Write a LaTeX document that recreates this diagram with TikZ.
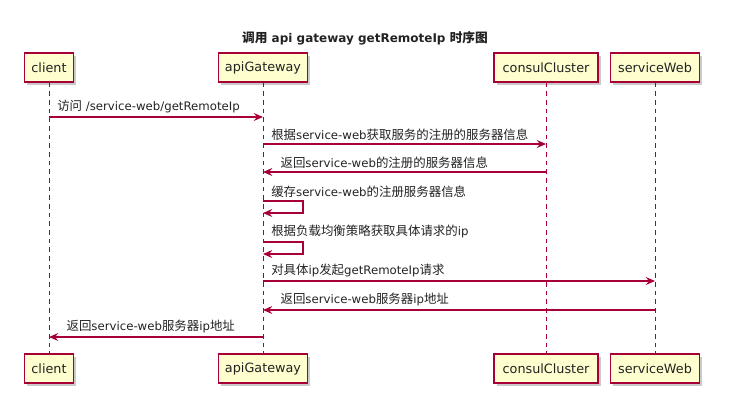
\documentclass[tikz,border=0pt]{standalone}
\usepackage{fontspec}
\setmainfont{DejaVu Sans}
\newfontfamily\cjk[Scale=1.06]{Noto Sans CJK SC}
\usetikzlibrary{arrows.meta,shadows}
\definecolor{umlred}{HTML}{A80036}
\definecolor{umlfill}{HTML}{FEFECE}
\definecolor{ink}{HTML}{222222}
\tikzset{
  actor/.style={draw=umlred, line width=0.9pt, fill=umlfill, minimum height=21.75pt, inner sep=0pt, text=ink, font=\fontsize{9.6}{11}\selectfont, drop shadow={shadow xshift=2pt, shadow yshift=-2pt, opacity=0.35, fill=black!60}},
  lifeline/.style={draw=umlred, line width=0.7pt, dash pattern=on 3.5pt off 3pt},
  msg/.style={draw=umlred, line width=0.8pt, -{Stealth[length=7pt,width=6pt,inset=2.5pt]}},
  lbl/.style={anchor=south west, inner sep=1pt, yshift=1.5pt, text=ink, font=\fontsize{8.8}{10}\selectfont}
}

\begin{document}
\begin{tikzpicture}[x=0.75pt, y=-0.75pt]
  \useasboundingbox (0,0) rectangle (739,419);
  \node[font=\bfseries\fontsize{9}{10}\selectfont, text=ink] (title) at (365,38) {{\cjk\bfseries 调用} api gateway getRemoteIp {\cjk\bfseries 时序图}};
  % participants, top and bottom
  \node[actor, minimum width=36.75pt] (client) at (49,67.5) {client};
  \node[actor, minimum width=66.75pt] (api) at (263,67.5) {apiGateway};
  \node[actor, minimum width=78pt] (consul) at (546,67.5) {consulCluster};
  \node[actor, minimum width=66.75pt] (web) at (655,67.5) {serviceWeb};
  \node[actor, minimum width=36.75pt] (clientB) at (49,368.5) {client};
  \node[actor, minimum width=66.75pt] (apiB) at (263,368.5) {apiGateway};
  \node[actor, minimum width=78pt] (consulB) at (546,368.5) {consulCluster};
  \node[actor, minimum width=66.75pt] (webB) at (655,368.5) {serviceWeb};
  \draw[lifeline] (client) -- (clientB);
  \draw[lifeline] (api) -- (apiB);
  \draw[lifeline] (consul) -- (consulB);
  \draw[lifeline] (web) -- (webB);
  % message rows
  \coordinate (r1) at (0,117);
  \coordinate (r2) at (0,144);
  \coordinate (r3) at (0,172);
  \coordinate (r4) at (0,201);
  \coordinate (r4b) at (0,213);
  \coordinate (r5) at (0,242);
  \coordinate (r5b) at (0,254);
  \coordinate (r6) at (0,281);
  \coordinate (r7) at (0,310);
  \coordinate (r8) at (0,337);
  \draw[msg] (client |- r1) -- (api |- r1);
  \node[lbl, xshift=5pt] (t1) at (client |- r1) {{\cjk 访问} /service-web/getRemoteIp};
  \draw[msg] (api |- r2) -- (consul |- r2);
  \node[lbl, xshift=5pt] (t2) at (api |- r2) {{\cjk 根据}service-web{\cjk 获取服务的注册的服务器信息}};
  \draw[msg] (consul |- r3) -- (api |- r3);
  \node[lbl, xshift=12pt] (t3) at (api |- r3) {{\cjk 返回}service-web{\cjk 的注册的服务器信息}};
  \draw[msg] (api |- r4) -- ++(40,0) -- ++(0,12) -- (api |- r4b);
  \node[lbl, xshift=5pt] (t4) at (api |- r4) {{\cjk 缓存}service-web{\cjk 的注册服务器信息}};
  \draw[msg] (api |- r5) -- ++(40,0) -- ++(0,12) -- (api |- r5b);
  \node[lbl, xshift=5pt] (t5) at (api |- r5) {{\cjk 根据负载均衡策略获取具体请求的}ip};
  \draw[msg] (api |- r6) -- (web |- r6);
  \node[lbl, xshift=5pt] (t6) at (api |- r6) {{\cjk 对具体}ip{\cjk 发起}getRemoteIp{\cjk 请求}};
  \draw[msg] (web |- r7) -- (api |- r7);
  \node[lbl, xshift=12pt] (t7) at (api |- r7) {{\cjk 返回}service-web{\cjk 服务器}ip{\cjk 地址}};
  \draw[msg] (api |- r8) -- (client |- r8);
  \node[lbl, xshift=12pt] (t8) at (client |- r8) {{\cjk 返回}service-web{\cjk 服务器}ip{\cjk 地址}};
\end{tikzpicture}
\end{document}
